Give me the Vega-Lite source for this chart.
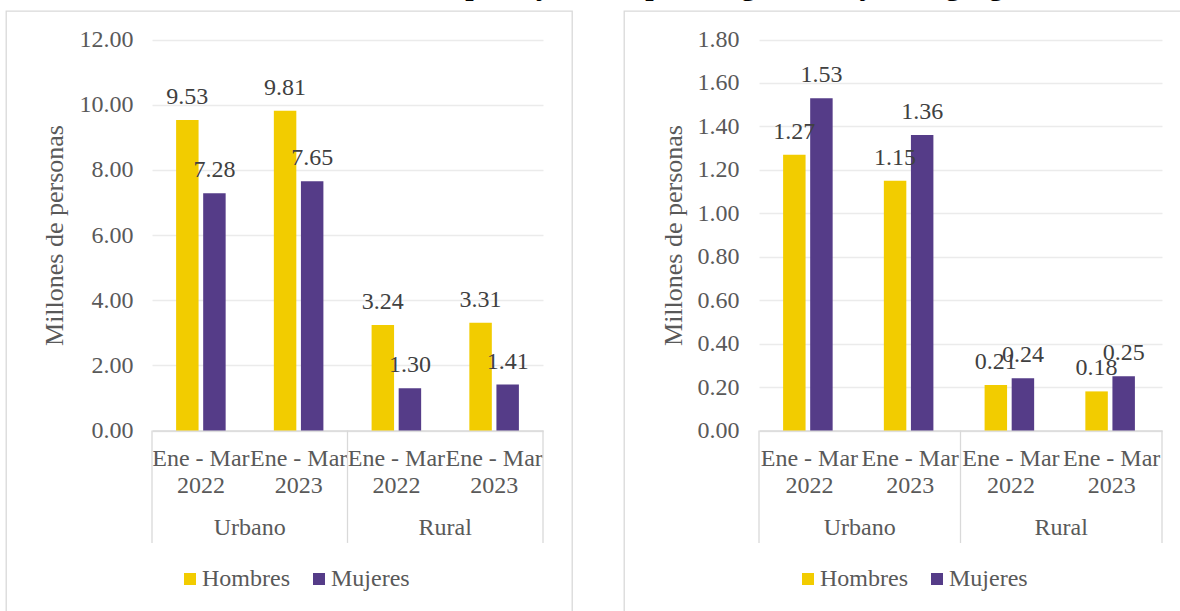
{
  "$schema": "https://vega.github.io/schema/vega-lite/v6.json",
  "background": "white",
  "padding": {"left": 5, "top": -29, "right": 0, "bottom": 0},
  "title": {
    "text": "Población ocupada y desocupada según sexo y área geográfica",
    "anchor": "start",
    "frame": "group",
    "dx": 280,
    "offset": -21,
    "baseline": "bottom",
    "font": "Liberation Serif",
    "fontSize": 30,
    "fontWeight": "bold",
    "color": "#000000"
  },
  "datasets": {
    "panel1": [
      {"area": "Urbano", "cat": "Urbano|Ene - Mar|2022", "sexo": "Hombres", "valor": 9.53},
      {"area": "Urbano", "cat": "Urbano|Ene - Mar|2022", "sexo": "Mujeres", "valor": 7.28},
      {"area": "Urbano", "cat": "Urbano|Ene - Mar|2023", "sexo": "Hombres", "valor": 9.81},
      {"area": "Urbano", "cat": "Urbano|Ene - Mar|2023", "sexo": "Mujeres", "valor": 7.65},
      {"area": "Rural", "cat": "Rural|Ene - Mar|2022", "sexo": "Hombres", "valor": 3.24},
      {"area": "Rural", "cat": "Rural|Ene - Mar|2022", "sexo": "Mujeres", "valor": 1.30},
      {"area": "Rural", "cat": "Rural|Ene - Mar|2023", "sexo": "Hombres", "valor": 3.31},
      {"area": "Rural", "cat": "Rural|Ene - Mar|2023", "sexo": "Mujeres", "valor": 1.41}
    ],
    "panel2": [
      {"area": "Urbano", "cat": "Urbano|Ene - Mar|2022", "sexo": "Hombres", "valor": 1.27},
      {"area": "Urbano", "cat": "Urbano|Ene - Mar|2022", "sexo": "Mujeres", "valor": 1.53},
      {"area": "Urbano", "cat": "Urbano|Ene - Mar|2023", "sexo": "Hombres", "valor": 1.15},
      {"area": "Urbano", "cat": "Urbano|Ene - Mar|2023", "sexo": "Mujeres", "valor": 1.36},
      {"area": "Rural", "cat": "Rural|Ene - Mar|2022", "sexo": "Hombres", "valor": 0.21},
      {"area": "Rural", "cat": "Rural|Ene - Mar|2022", "sexo": "Mujeres", "valor": 0.24},
      {"area": "Rural", "cat": "Rural|Ene - Mar|2023", "sexo": "Hombres", "valor": 0.18},
      {"area": "Rural", "cat": "Rural|Ene - Mar|2023", "sexo": "Mujeres", "valor": 0.25}
    ],
    "grupos": [
      {"cat": "Urbano|Ene - Mar|2022", "area": "Urbano"},
      {"cat": "Rural|Ene - Mar|2022", "area": "Rural"}
    ],
    "inicio_grupo": [
      {"cat": "Urbano|Ene - Mar|2022"},
      {"cat": "Rural|Ene - Mar|2022"}
    ],
    "fin_grupo": [
      {"cat": "Rural|Ene - Mar|2023"}
    ]
  },
  "config": {
    "font": "Liberation Serif",
    "view": {"stroke": "#d9d9d9", "strokeWidth": 1.3},
    "text": {"font": "Liberation Serif"},
    "axis": {
      "labelFont": "Liberation Serif",
      "titleFont": "Liberation Serif",
      "labelColor": "#595959",
      "titleColor": "#595959",
      "labelFontSize": 24,
      "titleFontSize": 26,
      "titleFontWeight": "normal"
    },
    "legend": {
      "labelFont": "Liberation Serif",
      "labelFontSize": 24,
      "labelColor": "#595959"
    }
  },
  "spacing": 50,
  "resolve": {"scale": {"x": "independent", "y": "independent"}, "legend": {"color": "independent"}},
  "hconcat": [
    {
      "width": 566,
      "height": 610,
      "encoding": {
        "x": {
          "field": "cat",
          "type": "nominal",
          "title": null,
          "scale": {
            "domain": ["Urbano|Ene - Mar|2022", "Urbano|Ene - Mar|2023", "Rural|Ene - Mar|2022", "Rural|Ene - Mar|2023"],
            "range": [146, 537],
            "paddingInner": 0,
            "paddingOuter": 0
          },
          "axis": {
            "title": null,
            "orient": "bottom",
            "offset": -190.5,
            "domainColor": "#d9d9d9",
            "domainWidth": 1.3,
            "ticks": false,
            "tickSize": 0,
            "grid": false,
            "labelAngle": 0,
            "labelPadding": 16,
            "labelLineHeight": 27,
            "labelLimit": 0,
            "labelOverlap": false,
            "labelFlush": false,
            "labelExpr": "slice(split(datum.label, '|'), 1)"
          }
        }
      },
      "layer": [
        {
          "data": {"name": "panel1"},
          "mark": {"type": "bar"},
          "encoding": {
            "y": {
              "field": "valor",
              "type": "quantitative",
              "title": "Millones de personas",
              "scale": {"domain": [0, 12], "range": [419.5, 28.5], "nice": false},
              "axis": {
                "title": "Millones de personas",
                "orient": "left",
                "offset": -146,
                "values": [0, 2, 4, 6, 8, 10, 12],
                "format": ".2f",
                "domain": false,
                "ticks": false,
                "tickSize": 0,
                "labelPadding": 19,
                "titlePadding": 12,
                "grid": true,
                "gridColor": "#ebebeb",
                "gridWidth": 1.3
              }
            },
            "xOffset": {"field": "sexo", "type": "nominal", "scale": {"paddingInner": 0.17, "paddingOuter": 0.89}},
            "color": {
              "field": "sexo",
              "type": "nominal",
              "scale": {"domain": ["Hombres", "Mujeres"], "range": ["#F2CC00", "#553C88"]},
              "legend": {
                "title": null,
                "orient": "none",
                "direction": "horizontal",
                "legendX": 172,
                "legendY": 556,
                "symbolType": "square",
                "symbolSize": 144,
                "symbolStrokeWidth": 0,
                "labelOffset": 0,
                "columnPadding": 17,
                "padding": 0
              }
            }
          }
        },
        {
          "data": {"name": "panel1"},
          "mark": {"type": "text", "font": "Liberation Serif", "baseline": "alphabetic", "dy": -16, "fontSize": 24, "color": "#404040"},
          "encoding": {
            "y": {"field": "valor", "type": "quantitative", "title": "Millones de personas", "scale": {"domain": [0, 12], "range": [419.5, 28.5], "nice": false}},
            "xOffset": {"field": "sexo", "type": "nominal", "scale": {"paddingInner": 0.17, "paddingOuter": 0.89}},
            "text": {"field": "valor", "type": "quantitative", "format": ".2f"}
          }
        },
        {
          "data": {"name": "inicio_grupo"},
          "mark": {"type": "rule", "color": "#d9d9d9", "strokeWidth": 1.3},
          "encoding": {
            "x": {"field": "cat", "type": "nominal", "title": null, "bandPosition": 0},
            "y": {"datum": 0, "title": "Millones de personas", "scale": {"domain": [0, 12], "range": [419.5, 28.5], "nice": false}},
            "y2": {"datum": -3.45}
          }
        },
        {
          "data": {"name": "fin_grupo"},
          "mark": {"type": "rule", "color": "#d9d9d9", "strokeWidth": 1.3},
          "encoding": {
            "x": {"field": "cat", "type": "nominal", "title": null, "bandPosition": 1},
            "y": {"datum": 0, "title": "Millones de personas", "scale": {"domain": [0, 12], "range": [419.5, 28.5], "nice": false}},
            "y2": {"datum": -3.45}
          }
        },
        {
          "data": {"name": "grupos"},
          "mark": {"type": "text", "font": "Liberation Serif", "baseline": "middle", "fontSize": 24, "color": "#595959"},
          "encoding": {
            "x": {"field": "cat", "type": "nominal", "title": null, "bandPosition": 1},
            "y": {"datum": -2.99, "title": "Millones de personas", "scale": {"domain": [0, 12], "range": [419.5, 28.5], "nice": false}},
            "text": {"field": "area", "type": "nominal"}
          }
        }
      ]
    },
    {
      "width": 566,
      "height": 610,
      "encoding": {
        "x": {
          "field": "cat",
          "type": "nominal",
          "title": null,
          "scale": {
            "domain": ["Urbano|Ene - Mar|2022", "Urbano|Ene - Mar|2023", "Rural|Ene - Mar|2022", "Rural|Ene - Mar|2023"],
            "range": [135, 538],
            "paddingInner": 0,
            "paddingOuter": 0
          },
          "axis": {
            "title": null,
            "orient": "bottom",
            "offset": -190.5,
            "domainColor": "#d9d9d9",
            "domainWidth": 1.3,
            "ticks": false,
            "tickSize": 0,
            "grid": false,
            "labelAngle": 0,
            "labelPadding": 16,
            "labelLineHeight": 27,
            "labelLimit": 0,
            "labelOverlap": false,
            "labelFlush": false,
            "labelExpr": "slice(split(datum.label, '|'), 1)"
          }
        }
      },
      "layer": [
        {
          "data": {"name": "panel2"},
          "mark": {"type": "bar"},
          "encoding": {
            "y": {
              "field": "valor",
              "type": "quantitative",
              "title": "Millones de personas",
              "scale": {"domain": [0, 1.8], "range": [419.5, 28.5], "nice": false},
              "axis": {
                "title": "Millones de personas",
                "orient": "left",
                "offset": -135,
                "values": [0, 0.2, 0.4, 0.6, 0.8, 1.0, 1.2, 1.4, 1.6, 1.8],
                "format": ".2f",
                "domain": false,
                "ticks": false,
                "tickSize": 0,
                "labelPadding": 20,
                "titlePadding": 11,
                "grid": true,
                "gridColor": "#ebebeb",
                "gridWidth": 1.3
              }
            },
            "xOffset": {"field": "sexo", "type": "nominal", "scale": {"paddingInner": 0.17, "paddingOuter": 0.89}},
            "color": {
              "field": "sexo",
              "type": "nominal",
              "scale": {"domain": ["Hombres", "Mujeres"], "range": ["#F2CC00", "#553C88"]},
              "legend": {
                "title": null,
                "orient": "none",
                "direction": "horizontal",
                "legendX": 172,
                "legendY": 556,
                "symbolType": "square",
                "symbolSize": 144,
                "symbolStrokeWidth": 0,
                "labelOffset": 0,
                "columnPadding": 17,
                "padding": 0
              }
            }
          }
        },
        {
          "data": {"name": "panel2"},
          "mark": {"type": "text", "font": "Liberation Serif", "baseline": "alphabetic", "dy": -16, "fontSize": 24, "color": "#404040"},
          "encoding": {
            "y": {"field": "valor", "type": "quantitative", "title": "Millones de personas", "scale": {"domain": [0, 1.8], "range": [419.5, 28.5], "nice": false}},
            "xOffset": {"field": "sexo", "type": "nominal", "scale": {"paddingInner": 0.17, "paddingOuter": 0.89}},
            "text": {"field": "valor", "type": "quantitative", "format": ".2f"}
          }
        },
        {
          "data": {"name": "inicio_grupo"},
          "mark": {"type": "rule", "color": "#d9d9d9", "strokeWidth": 1.3},
          "encoding": {
            "x": {"field": "cat", "type": "nominal", "title": null, "bandPosition": 0},
            "y": {"datum": 0, "title": "Millones de personas", "scale": {"domain": [0, 1.8], "range": [419.5, 28.5], "nice": false}},
            "y2": {"datum": -0.518}
          }
        },
        {
          "data": {"name": "fin_grupo"},
          "mark": {"type": "rule", "color": "#d9d9d9", "strokeWidth": 1.3},
          "encoding": {
            "x": {"field": "cat", "type": "nominal", "title": null, "bandPosition": 1},
            "y": {"datum": 0, "title": "Millones de personas", "scale": {"domain": [0, 1.8], "range": [419.5, 28.5], "nice": false}},
            "y2": {"datum": -0.518}
          }
        },
        {
          "data": {"name": "grupos"},
          "mark": {"type": "text", "font": "Liberation Serif", "baseline": "middle", "fontSize": 24, "color": "#595959"},
          "encoding": {
            "x": {"field": "cat", "type": "nominal", "title": null, "bandPosition": 1},
            "y": {"datum": -0.449, "title": "Millones de personas", "scale": {"domain": [0, 1.8], "range": [419.5, 28.5], "nice": false}},
            "text": {"field": "area", "type": "nominal"}
          }
        }
      ]
    }
  ]
}
